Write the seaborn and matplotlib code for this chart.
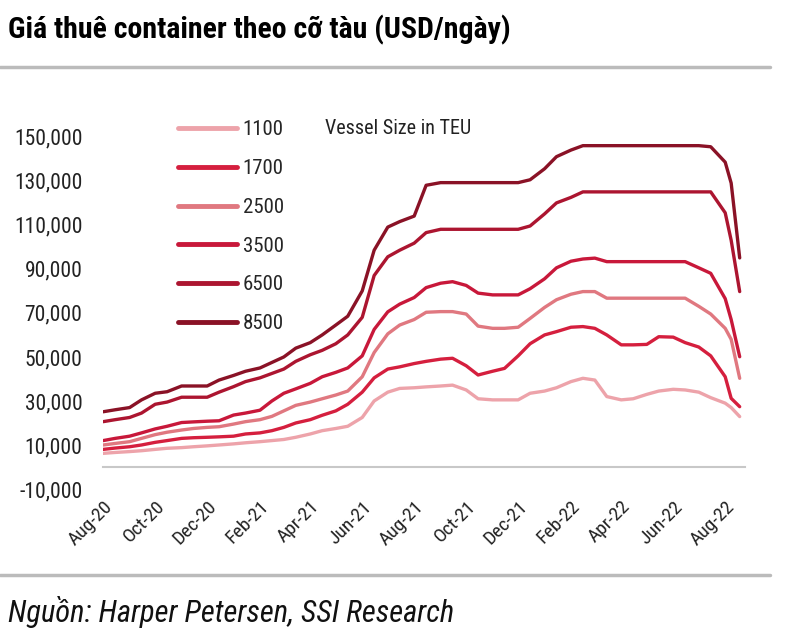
import pandas as pd
import seaborn as sns
import matplotlib.pyplot as plt
import matplotlib.dates as mdates
from matplotlib.ticker import FuncFormatter

# Half-month sampling, Aug-2020 .. mid Aug-2022 (USD/day, in thousands)
dates = list(pd.date_range("2020-08-01", "2022-08-01", freq="SMS")) + [
    pd.Timestamp("2022-08-08"), pd.Timestamp("2022-08-18")]

teu_1100 = [6.2, 6.6, 7.0, 7.4, 8.0, 8.5, 8.8, 9.2, 9.6, 10.0,
            10.5, 11.0, 11.5, 12.0, 12.5, 13.5, 15.0, 16.5, 17.5, 18.5,
            22.5, 30.0, 34.0, 35.7, 36.0, 36.4, 36.8, 37.2, 35.0, 31.0,
            30.5, 30.5, 30.5, 33.5, 34.5, 36.0, 38.8, 40.3, 39.5, 32.0,
            30.5, 31.0, 33.0, 34.5, 35.3, 35.0, 34.0, 31.5, 29.0, 27.0, 22.9]
teu_1700 = [8.0, 8.6, 9.2, 10.0, 11.2, 12.0, 13.0, 13.3, 13.5, 13.7,
            14.0, 15.0, 15.5, 16.5, 18.0, 20.0, 21.5, 23.5, 25.5, 28.5,
            34.0, 40.5, 44.5, 45.5, 47.0, 48.0, 49.0, 49.4, 46.0, 41.8,
            43.5, 44.8, 50.5, 56.0, 60.0, 61.5, 63.5, 63.8, 63.0, 60.0,
            55.5, 55.5, 55.7, 59.2, 59.0, 56.5, 54.5, 50.5, 41.0, 31.2, 27.4]
teu_2500 = [10.0, 10.7, 11.5, 13.0, 14.7, 15.8, 16.8, 17.5, 18.0, 18.3,
            19.5, 20.6, 21.5, 23.0, 25.5, 28.0, 29.5, 31.0, 32.7, 34.5,
            41.0, 52.0, 60.5, 64.5, 67.0, 70.3, 70.6, 70.6, 69.5, 64.0,
            63.0, 63.0, 63.5, 67.5, 72.5, 76.0, 78.5, 79.7, 79.7, 76.7,
            76.7, 76.7, 76.7, 76.7, 76.7, 76.7, 73.0, 69.5, 63.0, 58.0, 40.3]
teu_3500 = [12.0, 13.0, 14.0, 15.5, 17.3, 18.5, 20.2, 20.5, 20.8, 21.0,
            23.6, 24.5, 25.8, 30.0, 33.5, 35.5, 38.0, 41.0, 43.0, 45.0,
            50.5, 62.5, 70.5, 74.0, 77.0, 81.5, 83.5, 84.2, 82.5, 79.0,
            78.2, 78.2, 78.2, 81.0, 85.5, 90.5, 93.5, 94.5, 94.9, 93.3,
            93.3, 93.3, 93.3, 93.3, 93.3, 93.3, 90.5, 88.0, 76.5, 67.0, 50.1]
teu_6500 = [20.6, 21.5, 22.5, 24.5, 28.5, 29.5, 31.7, 31.7, 31.7, 34.0,
            36.5, 38.8, 40.5, 42.5, 44.5, 48.0, 51.0, 53.0, 56.0, 60.0,
            68.0, 87.0, 95.5, 98.5, 101.7, 106.5, 108.0, 108.0, 108.0, 108.0,
            108.0, 108.0, 108.0, 109.5, 115.0, 120.0, 122.5, 125.0, 125.0, 125.0,
            125.0, 125.0, 125.0, 125.0, 125.0, 125.0, 125.0, 125.0, 115.5, 103.0, 79.7]
teu_8500 = [25.1, 26.0, 27.0, 30.5, 33.5, 34.2, 36.8, 36.8, 36.8, 39.5,
            41.6, 43.5, 45.0, 47.5, 50.0, 54.0, 56.5, 60.0, 64.5, 68.5,
            80.0, 98.5, 109.0, 111.5, 114.0, 128.0, 129.2, 129.2, 129.2, 129.2,
            129.2, 129.2, 129.2, 130.5, 135.5, 141.0, 144.0, 146.0, 146.0, 146.0,
            146.0, 146.0, 146.0, 146.0, 146.0, 146.0, 146.0, 145.5, 138.5, 129.0, 95.0]

sizes = ["1100", "1700", "2500", "3500", "6500", "8500"]
series = [teu_1100, teu_1700, teu_2500, teu_3500, teu_6500, teu_8500]
colors = ["#EDA3AA", "#D51F3E", "#E07880", "#C8183A", "#AC1530", "#8A1226"]

y_ticks = list(range(-10000, 150001, 20000))
x_ticks = pd.date_range("2020-08-01", "2022-08-01", freq="2MS")

# long format table for seaborn
frames = []
for size, vals in zip(sizes, series):
    frames.append(pd.DataFrame({"date": dates, "value": [v * 1000 for v in vals], "size": size}))
df = pd.concat(frames, ignore_index=True)

sns.set_style("white")
plt.rcParams["font.family"] = ["Roboto Condensed", "Archivo Narrow", "DejaVu Sans"]

fig = plt.figure(figsize=(8, 6.43), dpi=100)
ax = fig.add_axes([0.129, 0.2395, 0.802, 0.599])

sns.lineplot(data=df, x="date", y="value", hue="size", hue_order=sizes,
             palette=dict(zip(sizes, colors)), linewidth=2.4, ax=ax)

ax.set_ylim(-10000, 165000)
ax.set_xlim(pd.Timestamp("2020-08-01"), pd.Timestamp("2022-08-24"))
ax.set_yticks(y_ticks)
ax.yaxis.set_major_formatter(FuncFormatter(lambda v, p: f"{int(v):,}"))
ax.set_xticks(x_ticks)
ax.xaxis.set_major_formatter(mdates.DateFormatter("%b-%y"))
ax.set_xlabel("")
ax.set_ylabel("")

for s in ["top", "right", "left"]:
    ax.spines[s].set_visible(False)
ax.spines["bottom"].set_position(("data", 0))
ax.spines["bottom"].set_color("#C8C8C8")
ax.spines["bottom"].set_linewidth(1.5)
ax.tick_params(axis="x", direction="out", length=5, width=1, color="#C8C8C8",
               pad=17, labelsize=14, labelcolor="#222222")
ax.tick_params(axis="y", length=0, pad=15, labelsize=15.5, labelcolor="#222222")
for lbl in ax.get_xticklabels():
    lbl.set_rotation(45)
    lbl.set_ha("right")
    lbl.set_rotation_mode("anchor")

# legend
handles, labels = ax.get_legend_handles_labels()
leg = ax.legend(handles, labels, loc="upper left", bbox_to_anchor=(0.2225, 0.813),
                bbox_transform=fig.transFigure, frameon=False, fontsize=15,
                handlelength=2.85, handletextpad=0.25, labelspacing=0.95,
                borderpad=0, borderaxespad=0)
for line in leg.get_lines():
    line.set_linewidth(3.5)
fig.text(0.406, 0.800, "Vessel Size in TEU", fontsize=14.5, color="#222222", va="center")

# title, rules and source
fig.text(0.01, 0.953, "Giá thuê container theo cỡ tàu (USD/ngày)", fontsize=21.5,
         fontweight="heavy", va="center", color="black")
fig.add_artist(plt.Line2D([0, 0.963], [0.896, 0.896], color="#BBBBBB", linewidth=2.5))
fig.add_artist(plt.Line2D([0, 0.963], [0.105, 0.105], color="#BBBBBB", linewidth=2.5))
fig.text(0.01, 0.048, "Nguồn: Harper Petersen, SSI Research", fontsize=22,
         style="italic", va="center", color="#111111")

plt.savefig("out.png", dpi=100)
